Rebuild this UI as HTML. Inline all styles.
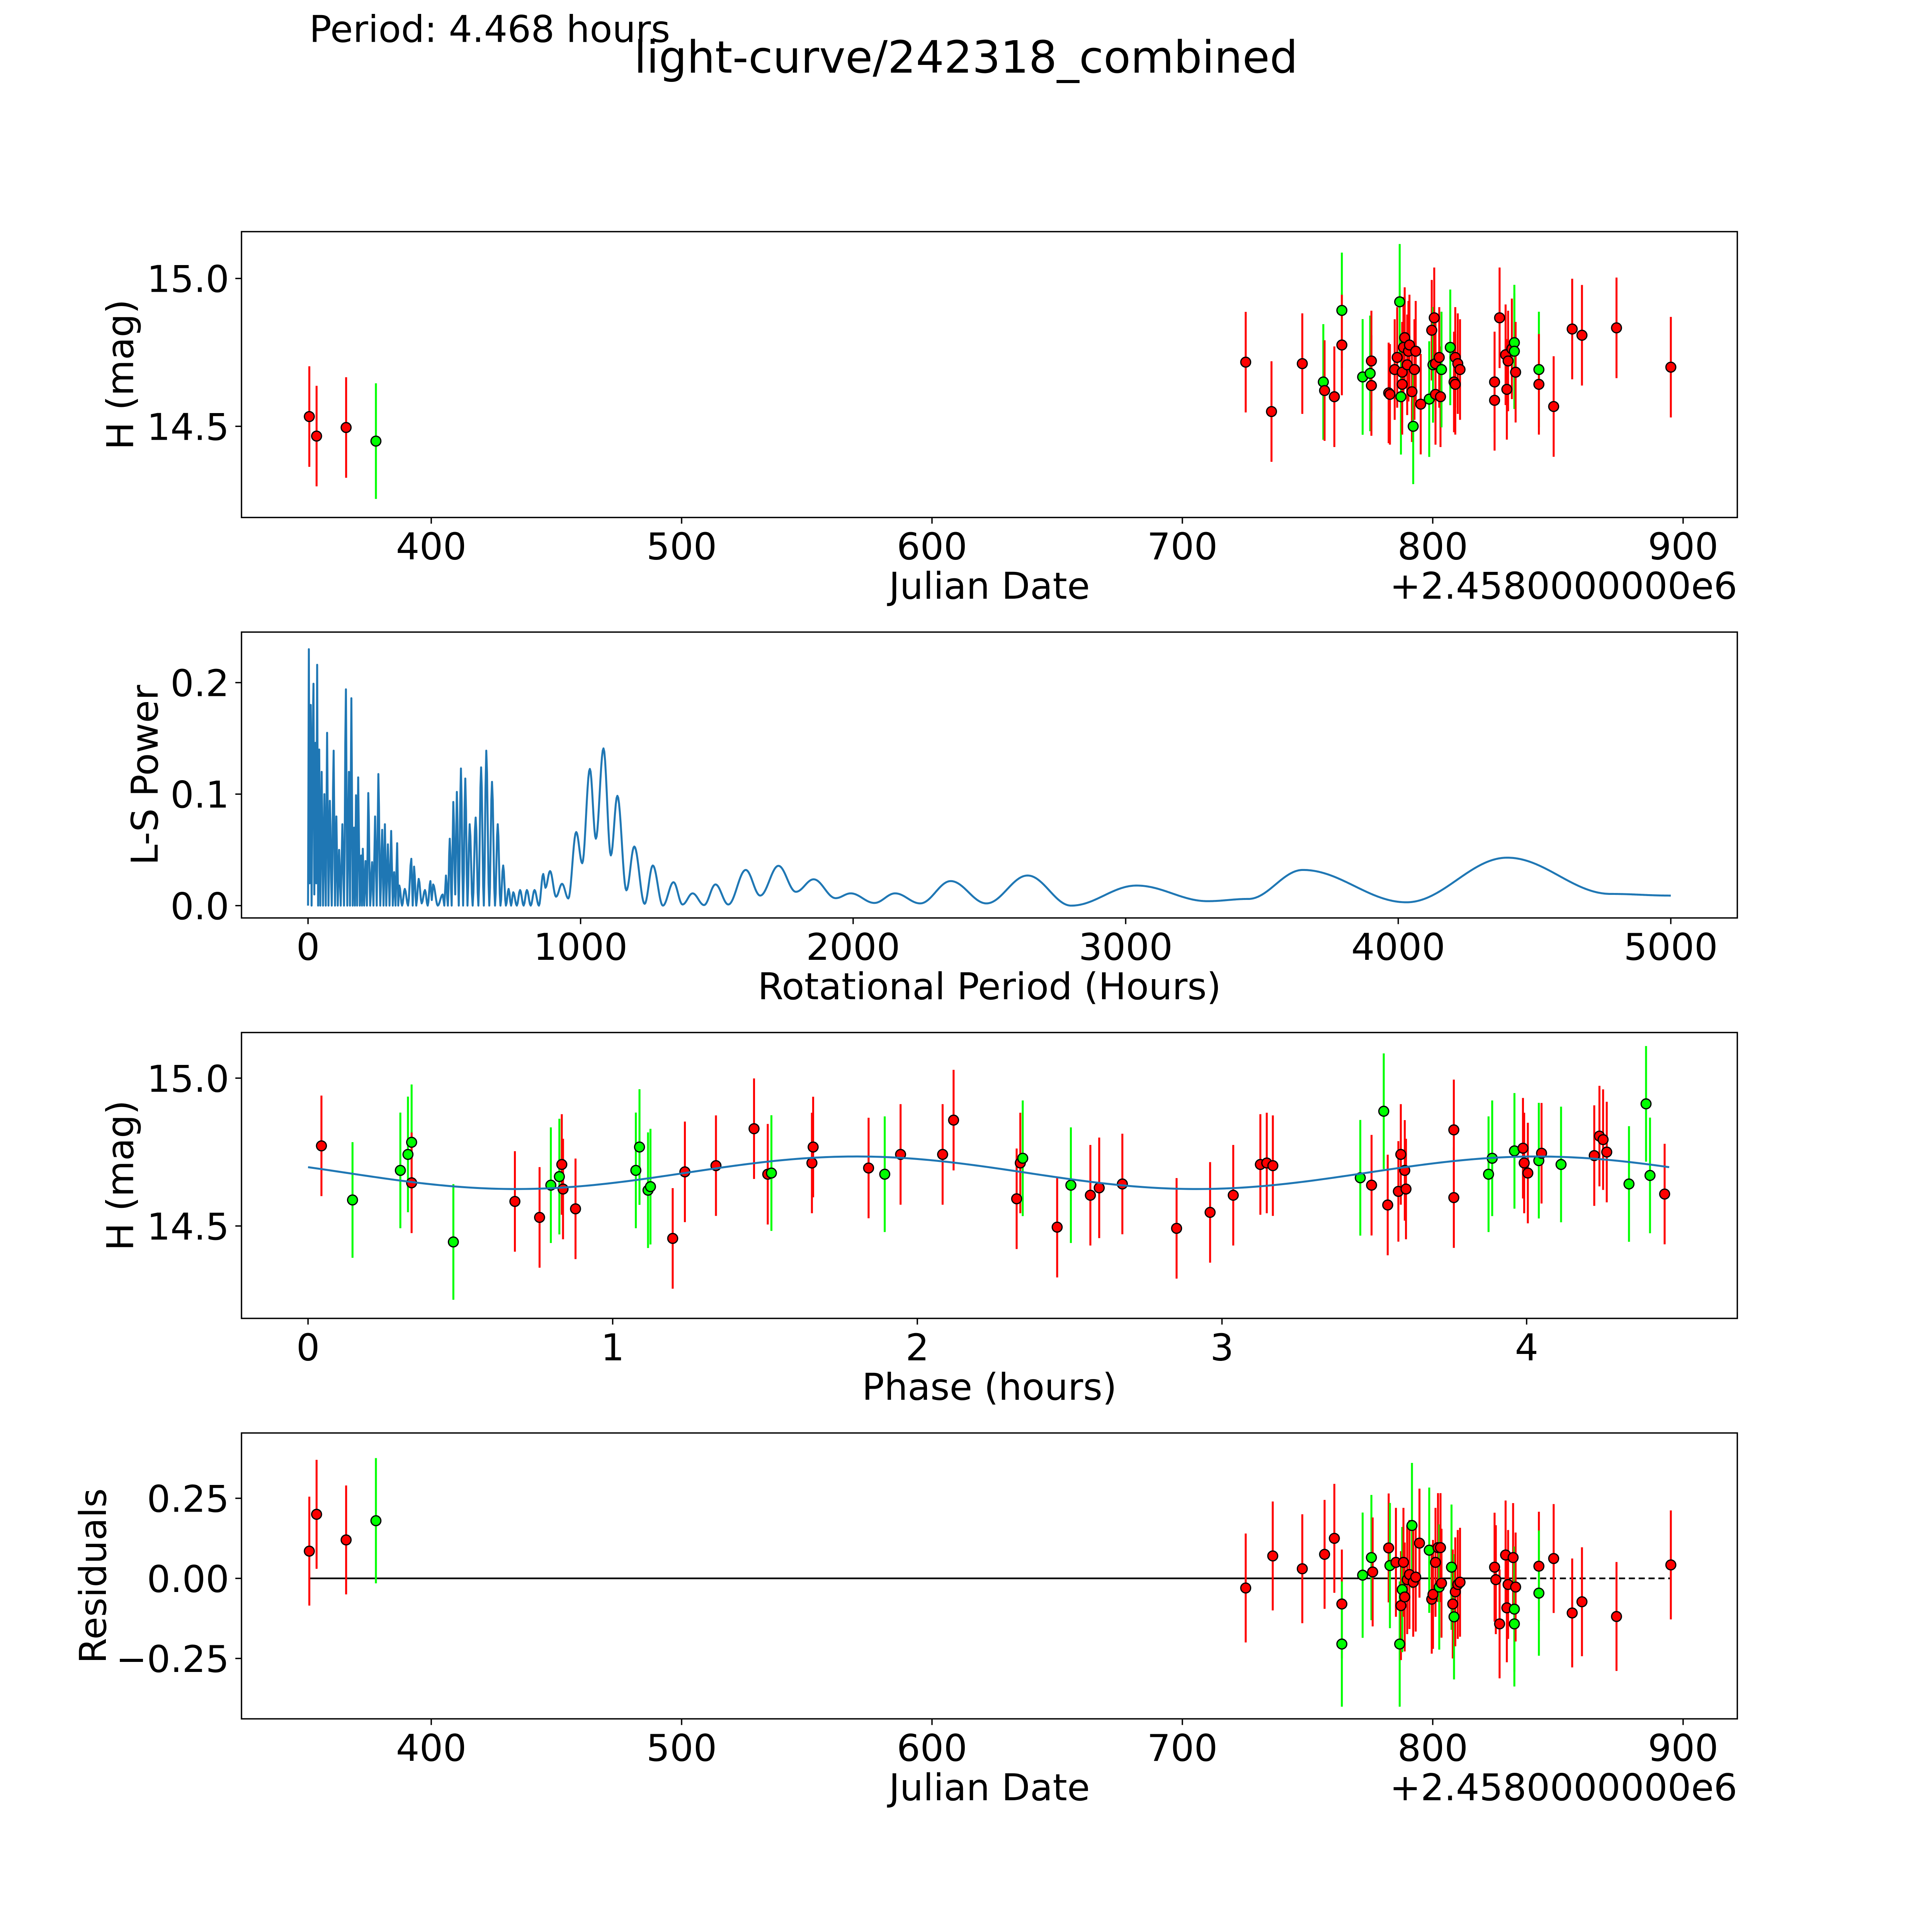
<!DOCTYPE html>
<html><head><meta charset="utf-8"><style>
html,body{margin:0;padding:0;background:#fff;overflow:hidden;width:100%;height:100%}
svg{display:block;position:absolute;left:0;top:0;width:100vw;height:100vh}
text{font-family:"DejaVu Sans","Liberation Sans",sans-serif;fill:#000}
</style></head><body>
<svg id="chart" viewBox="0 0 1568 1568" preserveAspectRatio="none" xmlns="http://www.w3.org/2000/svg">
<text x="251" y="34" font-size="30">Period: 4.468 hours</text>
<text x="784" y="59" font-size="36" text-anchor="middle">light-curve/242318_combined</text>
<g id="layer"></g>
</svg>
<script>
// Panel 1: magnitude vs date (offset from 2458000)
const lcDates=[351.3,354.2,366.0,377.9,725.3,735.6,747.9,756.3,756.8,760.7,763.7,763.7,772.0,775.0,775.5,775.5,782.4,782.9,784.8,785.8,786.8,787.3,787.8,787.8,788.3,788.8,789.8,790.3,790.7,791.7,792.2,792.7,793.2,795.2,798.6,799.6,800.1,800.6,801.1,801.1,802.6,803.1,803.5,807.0,808.5,809.0,809.0,810.0,810.9,824.7,824.7,826.7,829.1,829.6,830.1,831.6,832.6,832.6,833.1,842.4,842.4,848.3,855.7,859.6,873.4,895.1];
const lcMags=[14.533,14.467,14.496,14.45,14.717,14.55,14.712,14.65,14.621,14.6,14.892,14.775,14.667,14.679,14.721,14.638,14.613,14.608,14.692,14.733,14.921,14.6,14.683,14.642,14.767,14.8,14.708,14.754,14.775,14.617,14.5,14.692,14.754,14.575,14.592,14.825,14.708,14.867,14.608,14.712,14.733,14.6,14.692,14.767,14.65,14.733,14.642,14.712,14.692,14.65,14.588,14.867,14.742,14.625,14.721,14.762,14.783,14.754,14.683,14.692,14.642,14.567,14.829,14.808,14.833,14.7];
const lcColors="rrrgrrrgrrgrggrrrrrrggrrrrrrrrgrrrgrgrrrrrggrrrrrrrrrrrrggrgrrrrrr".split('');
// Panel 2: periodogram (period hours, power)
const lsPeriods=[0,3,6,10,13,17,20,23,27,30,33.5,37,41,45,50,55,60,65,70,75,80,87,94,99,104,109,114,120,126,132,139,144,150,154,159,164,169,172,176,180,184,190,195,198,201,206,211,216,221,228,235,240,246,252,258,265,272,277,282,287,293,299,305,311,316,321,327,331,335,345,355,367,379,384,389,397,406,417,429,439,449,454,459,476,494,500,506,513,520,527,533,540,546,553,561,569,577,585,593,604,615,625,635,645,654,665,675,686,696,706,716,726,736,745,753,766,778,791,803,817,831,847,863,871,888,910,932,955,984,1006,1034,1056,1084,1111,1135,1168,1197,1235,1265,1302,1341,1374,1411,1453,1495,1542,1606,1659,1726,1790,1855,1936,1991,2078,2154,2246,2358,2489,2640,2800,3040,3300,3450,3650,4030,4400,4780,5000];
const lsPower=[0,0.23,0.02,0.18,0.0,0.15,0.199,0.01,0.146,0.02,0.216,0.0,0.14,0.0,0.12,0.0,0.1,0.0,0.155,0.0,0.094,0.0,0.139,0.0,0.08,0.0,0.05,0.0,0.073,0.0,0.194,0.0,0.12,0.0,0.186,0.0,0.07,0.0,0.099,0.0,0.115,0.0,0.045,0.0,0.051,0.0,0.04,0.0,0.101,0.0,0.039,0.0,0.08,0.0,0.118,0.0,0.068,0.0,0.073,0.0,0.055,0.0,0.067,0.0,0.03,0.0,0.056,0.0,0.018,0.0,0.015,0.0,0.042,0.0,0.035,0.0,0.024,0.002,0.014,0.0,0.022,0.005,0.019,0.0,0.010,0.0,0.027,0.0,0.06,0.0,0.093,0.01,0.102,0.0,0.123,0.0,0.114,0.0,0.073,0.0,0.079,0.0,0.124,0.0,0.139,0.0,0.111,0.0,0.073,0.0,0.036,0.0,0.015,0.0,0.012,0.0,0.014,0.0,0.014,0.0,0.014,0.0,0.0284,0.016,0.031,0.008,0.0196,0.0064,0.066,0.038,0.1226,0.06,0.141,0.045,0.0985,0.0137,0.053,0.0016,0.036,0,0.021,0.001,0.011,0.0005,0.019,0.001,0.032,0.009,0.0357,0.0124,0.0236,0.0067,0.011,0.0024,0.011,0.002,0.022,0.002,0.027,0.0,0.018,0.004,0.006,0.032,0.003,0.043,0.0105,0.009];
// Panel 3: phased
const phPhase=[0.044,0.146,0.303,0.328,0.340,0.340,0.477,0.679,0.760,0.797,0.825,0.833,0.837,0.878,1.076,1.088,1.116,1.124,1.197,1.237,1.339,1.464,1.509,1.521,1.654,1.658,1.840,1.893,1.945,2.083,2.119,2.326,2.338,2.346,2.459,2.504,2.568,2.597,2.673,2.851,2.961,3.037,3.126,3.147,3.167,3.454,3.491,3.531,3.544,3.579,3.587,3.600,3.604,3.761,3.761,3.875,3.887,3.960,3.988,3.992,4.004,4.040,4.049,4.113,4.222,4.239,4.251,4.263,4.336,4.392,4.405,4.453];
const phMags=[14.771,14.588,14.688,14.742,14.783,14.646,14.446,14.583,14.529,14.638,14.667,14.708,14.625,14.558,14.688,14.767,14.621,14.633,14.458,14.683,14.704,14.829,14.675,14.679,14.713,14.767,14.696,14.675,14.742,14.742,14.858,14.592,14.713,14.729,14.496,14.638,14.604,14.629,14.642,14.492,14.546,14.604,14.708,14.713,14.704,14.663,14.638,14.888,14.571,14.617,14.742,14.688,14.625,14.825,14.596,14.675,14.729,14.754,14.763,14.713,14.679,14.721,14.746,14.708,14.738,14.804,14.792,14.750,14.642,14.913,14.671,14.608];
const phColors="rggggrgrrggrrrggggrrrrrgrrrgrrrrrgrgrrrrrrrrrgrgrrrrrrrgggrrrgrgrrrrgggr".split('');
const fitParams=[14.68,0.055,1.8,2.234]; // mean, amplitude, peak phase, half period
const fitEnd=[4.468];
// Panel 4: residuals
const resDates=[351.3,354.2,366.0,377.9,725.3,736.1,747.9,756.8,760.7,763.7,763.7,772.0,775.5,776.0,782.4,782.9,785.3,786.8,787.3,787.8,788.3,788.8,789.8,790.7,791.7,792.2,793.2,794.7,798.6,799.6,800.1,801.1,802.1,802.6,803.1,803.5,807.5,808.0,808.5,809.0,810.0,810.9,824.7,825.2,826.7,829.1,829.6,830.1,832.1,832.6,832.6,833.1,842.4,842.4,848.3,855.7,859.6,873.4,895.1];
const resValues=[0.085,0.2,0.12,0.18,-0.03,0.07,0.03,0.075,0.125,-0.08,-0.205,0.01,0.065,0.02,0.095,0.04,0.05,-0.205,-0.085,-0.035,0.05,-0.058,-0.004,0.012,0.165,-0.012,0.004,0.11,0.088,-0.065,-0.05,0.05,0.096,-0.027,0.096,-0.015,0.035,-0.08,-0.12,-0.042,-0.019,-0.012,0.035,-0.004,-0.142,0.073,-0.092,-0.019,0.065,-0.096,-0.142,-0.027,0.038,-0.046,0.062,-0.108,-0.073,-0.119,0.042];
const resColors="rrrgrrrrrrgggrrgrgrgrrrrgrrrgrrrrgrrgrgrrrrrrrrrrggrrgrrrrr".split('');

const NS='http://www.w3.org/2000/svg';
const layer=document.getElementById('layer');
function mk(tag,attrs,parent){const e=document.createElementNS(NS,tag);for(const k in attrs)e.setAttribute(k,attrs[k]);(parent||layer).appendChild(e);return e;}
function lin(d0,d1,p0,p1){return v=>p0+(v-d0)*(p1-p0)/(d1-d0);}
const COL={r:'#ff0000',g:'#00ff00'};
const L=196,R=1410;
const FS=30;
function frame(y0,y1,name){const r=mk('rect',{x:L,y:y0,width:R-L,height:y1-y0,fill:'none',stroke:'#000','stroke-width':1.1});}
function xticks(vals,labs,sx,yb,name){vals.forEach((v,i)=>{const x=sx(v);mk('line',{x1:x,x2:x,y1:yb,y2:yb+5,stroke:'#000','stroke-width':1.1});const t=mk('text',{x:x,y:yb+34,'font-size':FS,'text-anchor':'middle'});t.textContent=labs[i];});}
function yticks(vals,labs,sy,name){vals.forEach((v,i)=>{const y=sy(v);mk('line',{x1:L,x2:L-5,y1:y,y2:y,stroke:'#000','stroke-width':1.1});const t=mk('text',{x:L-10,y:y+11,'font-size':FS,'text-anchor':'end'});t.textContent=labs[i];});}
function label(txt,x,y,rot,name){const t=mk('text',{x:x,y:y,'font-size':FS,'text-anchor':'middle',transform:rot?`rotate(-90 ${x} ${y})`:''});t.textContent=txt;}
function errpts(xs,ys,cs,sx,sy,err,name){
  xs.forEach((d,i)=>{const x=sx(d),c=COL[cs[i]]||'#f00',e=err*(cs[i]==='g'?1.15:1);
    const ln=mk('line',{x1:x,x2:x,y1:sy(ys[i]-e),y2:sy(ys[i]+e),stroke:c,'stroke-width':1.6});
    });
  xs.forEach((d,i)=>{const p=mk('circle',{cx:sx(d),cy:sy(ys[i]),r:4,fill:COL[cs[i]]||'#f00',stroke:'#000','stroke-width':1});
    });
}
// Panel 1
const sx1=lin(400,900,350,1366);
const sy1=lin(15.0,14.5,226,346);
frame(188,420,'light-curve-axes');
errpts(lcDates,lcMags,lcColors,sx1,sy1,0.17,'light-curve');
xticks([400,500,600,700,800,900],['400','500','600','700','800','900'],sx1,420,'date-x');
yticks([14.5,15.0],['14.5','15.0'],sy1,'mag-y');
label('Julian Date',803,486,false,'x-axis-title-date');
(()=>{const t=mk('text',{x:1410,y:486,'font-size':FS,'text-anchor':'end'});t.textContent='+2.4580000000e6';})();
label('H (mag)',108,304,true,'y-axis-title-mag');
// Panel 2
const sx2=lin(0,5000,250,1356);
const sy2=lin(0,0.2,735,554);
frame(513,745,'periodogram-axes');
(()=>{const pts=[];for(let i=0;i<lsPeriods.length-1;i++){const a=lsPeriods[i],b=lsPeriods[i+1],pa=lsPower[i],pb=lsPower[i+1];const n=Math.max(2,Math.ceil((sx2(b)-sx2(a))*1.5));for(let k=0;k<n;k++){const t=k/n,w=(1-Math.cos(Math.PI*t))/2;pts.push(sx2(a+(b-a)*t).toFixed(2)+','+sy2(pa+(pb-pa)*w).toFixed(2));}}
pts.push(sx2(lsPeriods[lsPeriods.length-1])+','+sy2(lsPower[lsPower.length-1]));
const p=mk('polyline',{points:pts.join(' '),fill:'none',stroke:'#1f77b4','stroke-width':1.6,'stroke-linejoin':'round'});})();
xticks([0,1000,2000,3000,4000,5000],['0','1000','2000','3000','4000','5000'],sx2,745,'period-x');
yticks([0,0.1,0.2],['0.0','0.1','0.2'],sy2,'power-y');
label('Rotational Period (Hours)',803,811,false,'x-axis-title-period');
label('L-S Power',128,629,true,'y-axis-title-power');
// Panel 3
const sx3=lin(0,4,250,1239);
const sy3=lin(15.0,14.5,875,995);
frame(838,1070,'phase-axes');
errpts(phPhase,phMags,phColors,sx3,sy3,0.17,'phase');
(()=>{const pts=[];for(let i=0;i<=300;i++){const p=fitEnd[0]*i/300;const m=fitParams[0]+fitParams[1]*Math.cos(2*Math.PI*(p-fitParams[2])/fitParams[3]);pts.push(sx3(p)+','+sy3(m));}
const pl=mk('polyline',{points:pts.join(' '),fill:'none',stroke:'#1f77b4','stroke-width':1.6});})();
xticks([0,1,2,3,4],['0','1','2','3','4'],sx3,1070,'phase-x');
yticks([14.5,15.0],['14.5','15.0'],sy3,'phase-mag-y');
label('Phase (hours)',803,1136,false,'x-axis-title-phase');
label('H (mag)',108,954,true,'y-axis-title-phase-mag');
// Panel 4
const sy4=lin(0,0.25,1281,1216);
frame(1163,1395,'residuals-axes');
(()=>{const a=mk('line',{x1:sx1(351.3),x2:sx1(835),y1:sy4(0),y2:sy4(0),stroke:'#000','stroke-width':1.4});
const b=mk('line',{x1:sx1(835),x2:sx1(895.1),y1:sy4(0),y2:sy4(0),stroke:'#000','stroke-width':1.4,'stroke-dasharray':'5,3'});})();
errpts(resDates,resValues,resColors,sx1,sy4,0.17,'residual');
xticks([400,500,600,700,800,900],['400','500','600','700','800','900'],sx1,1395,'res-date-x');
yticks([-0.25,0,0.25],['\u22120.25','0.00','0.25'],sy4,'residual-y');
label('Julian Date',803,1461,false,'x-axis-title-res-date');
(()=>{const t=mk('text',{x:1410,y:1461,'font-size':FS,'text-anchor':'end'});t.textContent='+2.4580000000e6';})();
label('Residuals',86,1279,true,'y-axis-title-residuals');
</script>
</body></html>
